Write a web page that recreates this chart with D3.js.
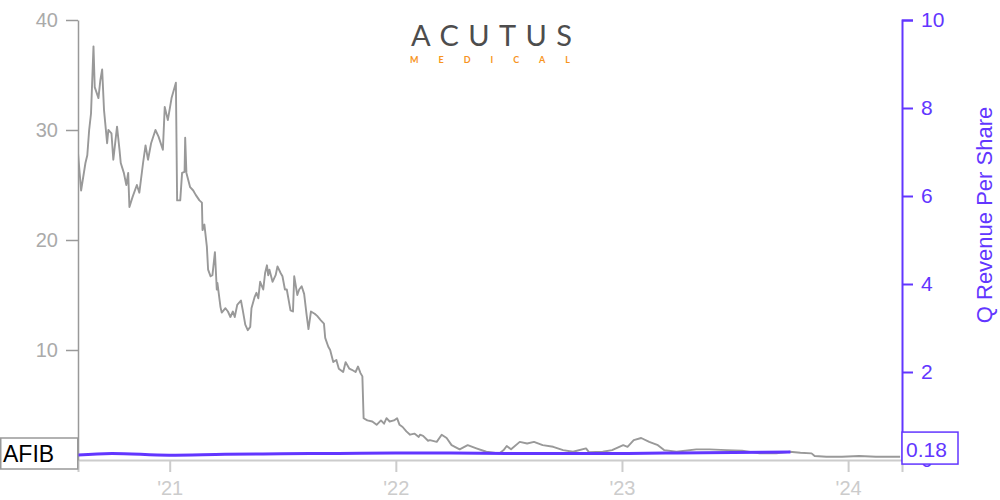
<!DOCTYPE html>
<html>
<head>
<meta charset="utf-8">
<script src="https://cdn.jsdelivr.net/npm/d3@7"></script>
<style>
  html, body { margin: 0; padding: 0; background: #fff; }
  svg { display: block; font-family: "Liberation Sans", Arial, sans-serif; }
</style>
</head>
<body>
<svg id="chart" width="1000" height="500"></svg>
<script>
// ---------- DATA ----------
const ticker = "AFIB";
const lastRevenueLabel = "0.18";
const rightAxisTitle = "Q Revenue Per Share";

const priceDates = [
  "2020-08-06","2020-08-11","2020-08-18","2020-08-21","2020-08-24","2020-08-27","2020-08-31","2020-09-02",
  "2020-09-08","2020-09-11","2020-09-14","2020-09-17","2020-09-22","2020-09-24","2020-09-29","2020-10-02",
  "2020-10-08","2020-10-12","2020-10-14","2020-10-19","2020-10-23","2020-10-26","2020-10-28","2020-11-02",
  "2020-11-09","2020-11-13","2020-11-19","2020-11-23","2020-11-27","2020-12-02","2020-12-09","2020-12-14",
  "2020-12-21","2020-12-24","2020-12-29","2021-01-04","2021-01-07","2021-01-11","2021-01-13","2021-01-18",
  "2021-01-21","2021-01-25","2021-01-26","2021-01-28","2021-02-03","2021-02-08","2021-02-12","2021-02-18",
  "2021-02-22","2021-02-23","2021-02-26","2021-03-02","2021-03-04","2021-03-08","2021-03-11","2021-03-15",
  "2021-03-18","2021-03-19","2021-03-24","2021-03-26","2021-04-01","2021-04-05","2021-04-09","2021-04-13",
  "2021-04-16","2021-04-20","2021-04-26","2021-04-29","2021-05-03","2021-05-07","2021-05-11","2021-05-13",
  "2021-05-18","2021-05-21","2021-05-24","2021-05-27","2021-06-01","2021-06-04","2021-06-07","2021-06-09",
  "2021-06-11","2021-06-16","2021-06-21","2021-06-24","2021-06-29","2021-07-02","2021-07-06","2021-07-09",
  "2021-07-15","2021-07-19","2021-07-21","2021-07-26","2021-07-29","2021-08-02","2021-08-06","2021-08-10",
  "2021-08-13","2021-08-17","2021-08-23","2021-08-27","2021-09-02","2021-09-07","2021-09-09","2021-09-14",
  "2021-09-17","2021-09-22","2021-09-27","2021-10-01","2021-10-08","2021-10-12","2021-10-18","2021-10-22",
  "2021-10-28","2021-11-01","2021-11-05","2021-11-08","2021-11-10","2021-11-16","2021-11-24","2021-12-01",
  "2021-12-08","2021-12-13","2021-12-17","2021-12-22","2021-12-29","2022-01-03","2022-01-07","2022-01-12",
  "2022-01-18","2022-01-24","2022-01-31","2022-02-07","2022-02-09","2022-02-14","2022-02-22","2022-02-25",
  "2022-03-08","2022-03-16","2022-03-24","2022-04-01","2022-04-14","2022-04-27","2022-05-11","2022-05-27",
  "2022-06-17","2022-06-24","2022-06-29","2022-07-06","2022-07-20","2022-08-01","2022-08-12","2022-08-26",
  "2022-09-12","2022-09-28","2022-10-14","2022-11-04","2022-11-09","2022-12-01","2022-12-16","2023-01-03",
  "2023-01-10","2023-01-20","2023-02-01","2023-02-14","2023-02-28","2023-03-10","2023-03-17","2023-03-30",
  "2023-05-01","2023-05-22","2023-06-19","2023-07-14","2023-08-11","2023-09-07","2023-09-29","2023-10-16",
  "2023-11-03","2023-11-08","2023-11-27","2023-12-22","2024-01-19","2024-02-15","2024-03-25"
];
const priceValues = [
  27.9,24.5,27.0,27.7,30.0,31.5,37.6,33.9,
  32.9,34.5,35.5,31.8,28.8,30.0,29.7,27.3,
  30.3,28.2,27.0,26.1,25.0,26.1,23.0,23.9,
  25.0,24.3,27.0,28.6,27.3,28.8,30.0,29.4,
  28.2,32.1,30.9,32.9,33.5,34.3,23.6,23.6,
  26.1,26.2,29.3,26.1,24.8,24.5,24.1,23.6,
  23.4,20.9,21.4,19.4,17.3,16.7,16.8,18.9,
  15.5,16.1,13.9,13.4,13.8,13.5,13.0,13.5,
  13.0,14.1,14.5,13.6,12.3,11.8,12.1,13.8,
  14.8,15.2,14.7,16.2,15.5,17.0,17.7,16.8,
  17.3,16.2,16.8,17.6,17.0,16.7,15.5,15.5,
  13.6,13.5,16.7,15.0,15.5,15.8,15.1,13.2,
  11.9,13.5,13.3,13.1,12.7,12.4,11.1,10.3,
  10.0,8.9,9.1,8.3,8.0,8.9,8.3,8.2,
  8.0,8.5,7.9,7.6,3.8,3.6,3.5,3.2,
  3.6,3.3,3.8,3.5,3.6,3.8,3.2,3.0,
  2.6,2.3,2.4,2.1,2.3,2.2,1.75,1.8,
  1.65,2.3,2.0,1.35,0.97,1.35,1.06,0.75,
  0.6,0.9,1.27,0.97,1.65,1.5,1.65,1.35,
  1.2,0.9,0.75,1.06,0.7,0.75,0.9,1.35,
  1.2,1.8,2.0,1.65,1.35,0.9,0.85,0.75,
  0.97,0.97,0.9,0.85,0.6,0.6,0.75,0.66,
  0.6,0.36,0.3,0.3,0.36,0.3,0.3
];

const revDates = [
  "2020-06-30","2020-09-30","2020-12-31","2021-03-31","2021-06-30","2021-09-30","2021-12-31",
  "2022-03-31","2022-06-30","2022-09-30","2022-12-31","2023-03-31","2023-06-30","2023-09-30"
];
const revValues = [0.07,0.15,0.11,0.13,0.14,0.15,0.16,0.16,0.15,0.15,0.15,0.16,0.17,0.18];

const xDomain = ["2020-08-06","2024-03-28"];
const xTickDates = ["2021-01-01","2022-01-01","2023-01-01","2024-01-01"];
const leftTicks = [10,20,30,40];
const rightTicks = [0,2,4,6,8,10];

// ---------- CHART ----------
const parse = d3.utcParse("%Y-%m-%d");
const svg = d3.select("#chart");
const M = { left: 78, right: 902, top: 20, bottom: 460 };
const purple = "#6236ff";

const x = d3.scaleUtc().domain(xDomain.map(parse)).range([M.left, M.right]);
const yL = d3.scaleLinear().domain([0, 40]).range([M.bottom, M.top]);
const yR = d3.scaleLinear().domain([0, 10]).range([M.bottom, M.top]);

svg.append("defs").append("clipPath").attr("id", "plotClip")
  .append("rect").attr("x", M.left).attr("y", 0)
  .attr("width", M.right - M.left).attr("height", M.bottom + 2);

// Logo
const logo = svg.append("g");
logo.append("text").attr("x", 411).attr("y", 46)
  .attr("textLength", 161).attr("lengthAdjust", "spacing")
  .style("font-family", "Lato, 'Open Sans', sans-serif").style("font-weight", 400)
  .style("font-size", "29px").attr("fill", "#4d4d4d").text("ACUTUS");
logo.append("text").attr("x", 410).attr("y", 63)
  .attr("textLength", 160).attr("lengthAdjust", "spacing")
  .style("font-family", "Lato, 'Open Sans', sans-serif").style("font-weight", 700)
  .style("font-size", "9px").attr("fill", "#f7941d").text("MEDICAL");

// Bottom axis
const xAxis = d3.axisBottom(x)
  .tickValues(xTickDates.map(parse))
  .tickFormat(d3.utcFormat("'%y"))
  .tickSize(12).tickSizeOuter(12).tickPadding(9);
const gx = svg.append("g").attr("transform", `translate(0,${M.bottom})`).call(xAxis);
gx.select(".domain").attr("stroke", "#ccc").attr("stroke-width", 2);
gx.selectAll(".tick line").attr("stroke", "#ccc").attr("stroke-width", 2);
gx.selectAll(".tick text").attr("fill", "#ccc").style("font-size", "20px")
  .style("font-family", "'Liberation Sans', Arial, sans-serif");

// Left axis
const yAxisL = d3.axisLeft(yL).tickValues(leftTicks).tickSize(12).tickSizeOuter(0).tickPadding(8);
const gl = svg.append("g").attr("transform", `translate(${M.left},0)`).call(yAxisL);
gl.select(".domain").attr("stroke", "#999").attr("stroke-width", 1.5);
gl.selectAll(".tick line").attr("stroke", "#999").attr("stroke-width", 1.5);
gl.selectAll(".tick text").attr("fill", "#aaa").style("font-size", "20px")
  .style("font-family", "'Liberation Sans', Arial, sans-serif");

// Right axis
const yAxisR = d3.axisRight(yR).tickValues(rightTicks).tickSize(11).tickSizeOuter(11).tickPadding(8);
const gr = svg.append("g").attr("transform", `translate(${M.right},0)`).call(yAxisR);
gr.select(".domain").attr("stroke", purple).attr("stroke-width", 2);
gr.selectAll(".tick line").attr("stroke", purple).attr("stroke-width", 2);
gr.selectAll(".tick text").attr("fill", purple).style("font-size", "21px")
  .style("font-family", "'Liberation Sans', Arial, sans-serif");

svg.append("text")
  .attr("transform", `translate(992,215) rotate(-90)`)
  .attr("text-anchor", "middle").attr("fill", purple)
  .style("font-size", "22px").text(rightAxisTitle);

// Price line
const priceData = priceDates.map((d, i) => ({ date: parse(d), v: priceValues[i] }));
svg.append("path").datum(priceData)
  .attr("clip-path", "url(#plotClip)")
  .attr("fill", "none").attr("stroke", "#999").attr("stroke-width", 1.9)
  .attr("stroke-linejoin", "round")
  .attr("d", d3.line().x(d => x(d.date)).y(d => yL(d.v)));

// Revenue line
const revData = revDates.map((d, i) => ({ date: parse(d), v: revValues[i] }));
svg.append("path").datum(revData)
  .attr("clip-path", "url(#plotClip)")
  .attr("fill", "none").attr("stroke", purple).attr("stroke-width", 3)
  .attr("d", d3.line().curve(d3.curveMonotoneX).x(d => x(d.date)).y(d => yR(d.v)));

// Ticker box (left)
svg.append("rect").attr("x", 0.75).attr("y", 438).attr("width", 77).attr("height", 31)
  .attr("fill", "#fff").attr("stroke", "#999").attr("stroke-width", 1.5);
svg.append("text").attr("x", 3).attr("y", 462).attr("fill", "#000")
  .style("font-size", "23px").text(ticker);

// Last value box (right)
const lastY = yR(revValues[revValues.length - 1]);
svg.append("rect").attr("x", M.right).attr("y", lastY - 20).attr("width", 56).attr("height", 32)
  .attr("fill", "#fff").attr("stroke", purple).attr("stroke-width", 1.5);
svg.append("text").attr("x", M.right + 4).attr("y", lastY + 4.5).attr("fill", purple)
  .style("font-size", "21px").text(lastRevenueLabel);
</script>
</body>
</html>
